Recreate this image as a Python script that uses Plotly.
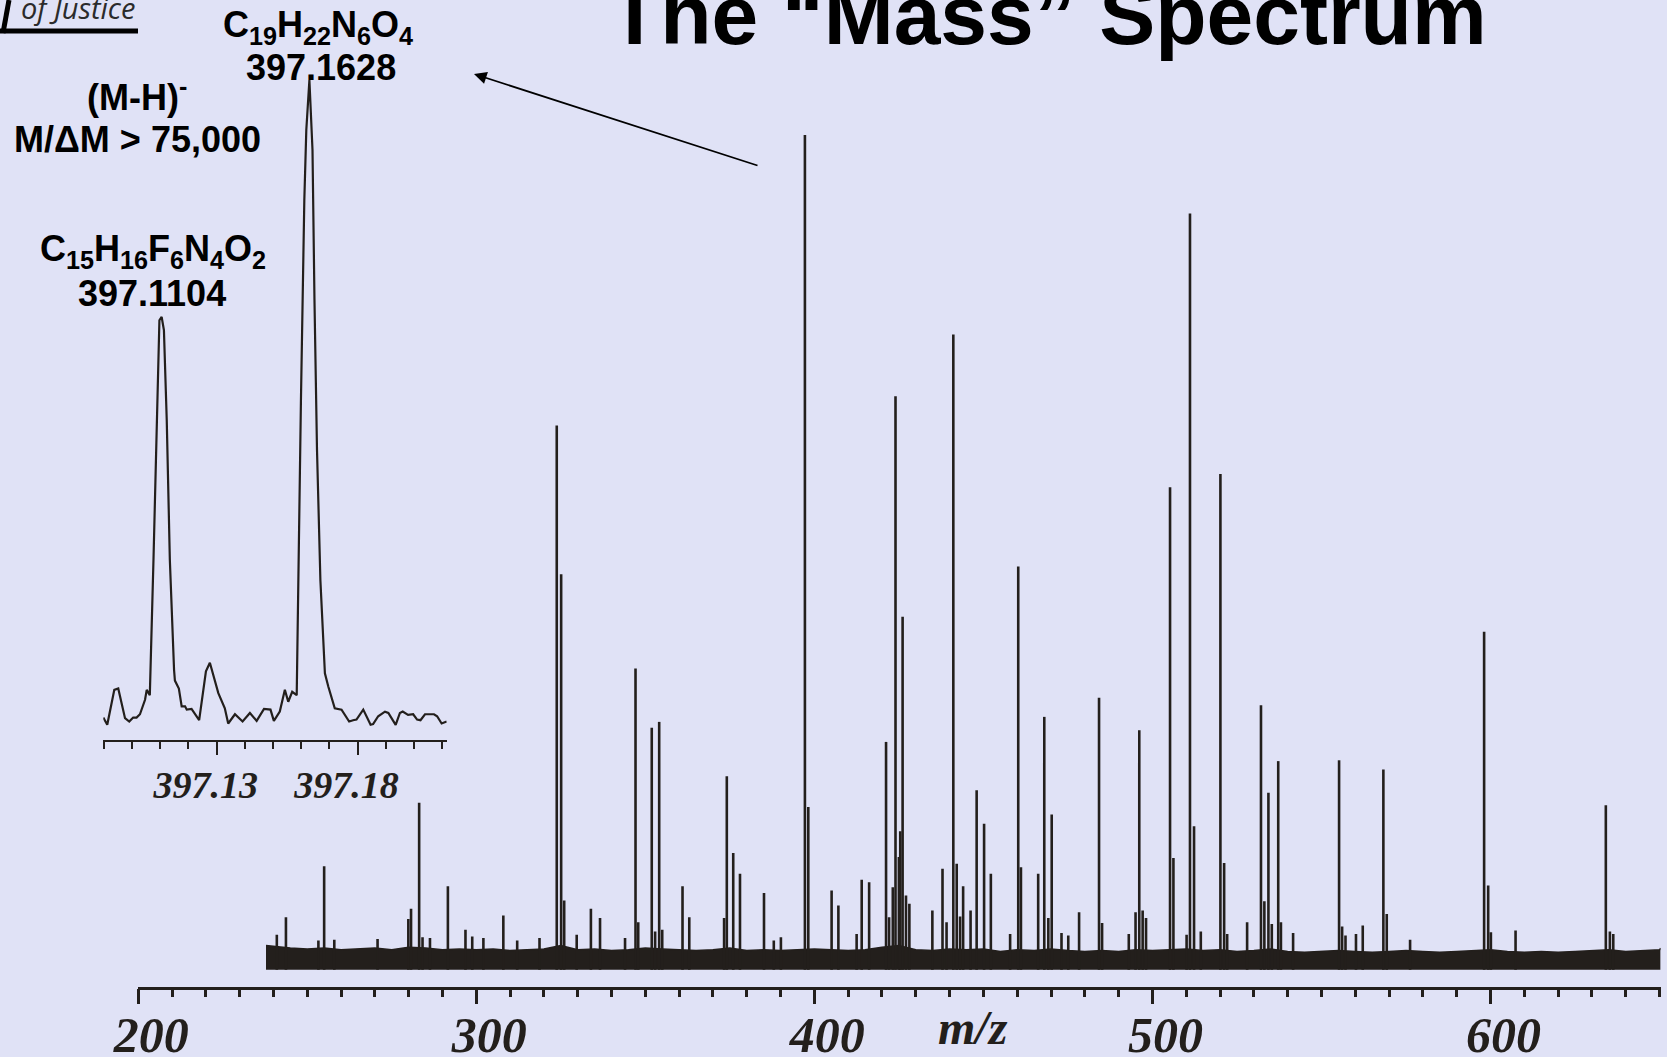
import plotly.graph_objects as go

W, H = 1667, 1057

# ---------------- data ----------------
# main spectrum peaks (m/z, relative intensity)
peak_mz = [241.0, 243.7, 253.3, 255.0, 258.0, 270.8, 279.9, 280.7, 283.1, 284.1, 286.3,
           291.6, 296.8, 298.8, 302.1, 308.0, 312.1, 318.7, 323.8, 325.1, 326.0, 329.7,
           333.9, 336.6, 344.0, 347.1, 347.9, 351.9, 352.9, 354.1, 355.0, 361.0, 363.0,
           373.3, 374.1, 376.0, 378.0, 385.1, 388.0, 390.1, 397.2, 398.2, 405.1, 407.1,
           412.5, 414.0, 416.2, 421.2, 422.1, 423.2, 424.0, 425.0, 425.4, 426.1, 427.1,
           428.1, 434.9, 437.9, 439.1, 441.1, 442.1, 443.1, 444.0, 446.2, 448.0, 450.2,
           452.2, 457.9, 460.3, 461.1, 466.2, 468.0, 469.2, 470.2, 473.1, 475.1, 478.3,
           484.2, 485.1, 493.0, 495.0, 496.1, 497.1, 498.1, 505.2, 506.2, 510.1, 511.1,
           512.3, 514.3, 520.1, 521.2, 522.1, 528.0, 532.1, 533.1, 534.3, 535.3, 537.2,
           538.0, 541.6, 555.2, 556.1, 557.1, 560.2, 562.2, 568.3, 569.3, 576.2, 598.1,
           599.3, 600.1, 607.4, 634.1, 635.3, 636.3]
peak_int = [4.2, 6.3, 3.5, 12.4, 3.6, 3.7, 6.1, 7.3, 20.0, 3.9, 3.8,
            10.0, 4.8, 4.0, 3.8, 6.5, 3.5, 3.8, 65.2, 47.4, 8.3, 4.2,
            7.3, 6.2, 3.8, 36.1, 5.7, 29.0, 4.6, 29.7, 4.8, 10.0, 6.3,
            6.2, 23.2, 14.0, 11.5, 9.2, 3.5, 3.9, 100.0, 19.5, 9.5, 7.7,
            4.3, 10.8, 10.5, 27.3, 6.3, 9.9, 68.7, 13.5, 16.6, 42.3, 8.9,
            7.9, 7.1, 12.1, 5.7, 76.1, 12.7, 6.4, 10.0, 7.1, 21.5, 17.5,
            11.5, 4.3, 48.3, 12.3, 11.5, 30.3, 6.2, 18.6, 4.4, 4.1, 6.9,
            32.6, 5.6, 4.3, 6.9, 28.7, 7.1, 6.2, 57.8, 13.4, 4.2, 90.6,
            17.2, 4.6, 59.4, 12.8, 4.3, 5.7, 31.7, 8.2, 21.2, 5.5, 25.0,
            5.7, 4.4, 25.1, 5.2, 4.1, 4.3, 5.3, 24.0, 6.7, 3.6, 40.5,
            10.1, 4.5, 4.7, 19.7, 4.6, 4.3]

# baseline noise envelope
noise_mz = [237.8, 240, 245, 250, 255, 260, 265, 270, 275, 280, 285, 290, 295, 300, 305,
            310, 315, 320, 325, 330, 335, 340, 345, 350, 355, 360, 365, 370, 375, 380,
            385, 390, 395, 400, 405, 410, 415, 420, 425, 430, 435, 440, 445, 450, 455,
            460, 465, 470, 475, 480, 485, 490, 495, 500, 505, 510, 515, 520, 525, 530,
            535, 540, 545, 550, 555, 560, 565, 570, 575, 580, 585, 590, 595, 600, 605,
            610, 615, 620, 625, 630, 635, 640, 645, 650, 650.3]
noise_int = [2.9, 2.8, 2.6, 2.5, 2.6, 2.4, 2.5, 2.6, 2.4, 2.7, 2.6, 2.4, 2.5, 2.4, 2.5,
             2.3, 2.4, 2.5, 2.9, 2.4, 2.5, 2.3, 2.4, 2.6, 2.5, 2.4, 2.3, 2.4, 2.6, 2.3,
             2.4, 2.3, 2.4, 2.5, 2.4, 2.3, 2.4, 2.7, 2.9, 2.4, 2.3, 2.5, 2.4, 2.5, 2.2,
             2.4, 2.3, 2.5, 2.3, 2.2, 2.3, 2.2, 2.4, 2.3, 2.4, 2.5, 2.3, 2.4, 2.2, 2.3,
             2.5, 2.2, 2.1, 2.2, 2.3, 2.2, 2.1, 2.2, 2.3, 2.2, 2.1, 2.2, 2.3, 2.4, 2.2,
             2.1, 2.2, 2.1, 2.2, 2.3, 2.4, 2.2, 2.3, 2.4, 2.6]

main_ticks = [200, 300, 400, 500, 600]
main_ticktext = ["200", "300", "400", "500", "600"]
mid_ticks = [250, 350, 450, 550, 650]

# high-resolution inset (m/z, relative intensity)
inset_mz = [397.0898, 397.0912, 397.0937, 397.0951, 397.0975, 397.0990, 397.1004, 397.1016,
            397.1028, 397.1046, 397.1052, 397.1063, 397.1076, 397.1089, 397.1097, 397.1105,
            397.1113, 397.1123, 397.1134, 397.1149, 397.1152, 397.1166, 397.1176, 397.1188,
            397.1194, 397.1211, 397.1238, 397.1262, 397.1276, 397.1306, 397.1329, 397.1341,
            397.1365, 397.1392, 397.1418, 397.1442, 397.1468, 397.1491, 397.1503, 397.1524,
            397.1542, 397.1554, 397.1568, 397.1584, 397.1590, 397.1599, 397.1611, 397.1618,
            397.1629, 397.1640, 397.1647, 397.1656, 397.1668, 397.1678, 397.1684, 397.1696,
            397.1719, 397.1743, 397.1770, 397.1784, 397.1796, 397.1820, 397.1846, 397.1855,
            397.1873, 397.1897, 397.1909, 397.1935, 397.1950, 397.1960, 397.1979, 397.1997,
            397.2011, 397.2023, 397.2039, 397.2071, 397.2082, 397.2098, 397.2116]
inset_int = [3.4, 2.3, 7.6, 7.8, 3.3, 2.8, 3.4, 3.4,
             3.9, 6.1, 7.6, 6.8, 27.3, 53.0, 63.6, 64.1,
             62.1, 48.5, 27.3, 10.6, 9.0, 7.8, 5.1, 5.1,
             4.6, 4.7, 3.0, 10.4, 11.7, 7.1, 4.8, 2.5,
             3.9, 2.8, 4.1, 2.9, 4.7, 4.6, 2.9, 4.3,
             7.6, 5.8, 7.3, 6.8, 27.3, 51.5, 81.8, 92.4,
             100.0, 89.4, 66.7, 43.9, 24.2, 14.4, 10.1, 8.1,
             4.8, 4.6, 2.8, 3.0, 3.1, 4.6, 2.3, 2.4,
             3.6, 4.3, 4.1, 2.3, 4.1, 4.3, 3.8, 3.9,
             3.1, 3.0, 3.9, 3.9, 3.6, 2.5, 2.8]
inset_ticks = [397.13, 397.18]
inset_ticktext = ["397.13", "397.18"]

# ---------------- styling ----------------
BG = "#E0E2F6"
INK = "#231F1C"

def px(x):
    return x / W

def py(y):
    return 1 - y / H

# stick spectrum built from the peak arrays
stick_x, stick_y = [], []
for m, v in zip(peak_mz, peak_int):
    stick_x += [m, m, None]
    stick_y += [0, v, None]

fig = go.Figure()
fig.add_trace(go.Scatter(x=noise_mz, y=noise_int, mode="lines", fill="tozeroy",
                         fillcolor=INK, line=dict(color=INK, width=1.5),
                         hoverinfo="skip", showlegend=False, xaxis="x", yaxis="y"))
fig.add_trace(go.Scatter(x=stick_x, y=stick_y, mode="lines",
                         line=dict(color=INK, width=2.6),
                         showlegend=False, xaxis="x", yaxis="y"))
fig.add_trace(go.Scatter(x=inset_mz, y=inset_int, mode="lines",
                         line=dict(color=INK, width=2.2),
                         showlegend=False, xaxis="x2", yaxis="y2"))

serif_bi = dict(family="Liberation Serif", color=INK, weight="bold", style="italic")

main_dom_x = [px(138.2), px(1660.6)]
fig.update_layout(
    width=W, height=H, autosize=False,
    margin=dict(l=0, r=0, t=0, b=0, pad=0, autoexpand=False),
    paper_bgcolor=BG, plot_bgcolor="rgba(0,0,0,0)",
    showlegend=False,
    xaxis=dict(domain=main_dom_x, range=[200, 650.3], anchor="y", automargin=False,
               showline=True, linecolor=INK, linewidth=2.5,
               showgrid=False, zeroline=False,
               tickmode="array", tickvals=main_ticks, ticktext=main_ticktext,
               ticks="outside", ticklen=15, tickwidth=2.6, tickcolor=INK,
               tickfont=dict(size=50, **serif_bi), ticklabelshift=13,
               ticklabelstandoff=-12,
               minor=dict(tickmode="linear", tick0=200, dtick=10, ticks="outside",
                          ticklen=8, tickwidth=2.6, tickcolor=INK, showgrid=False)),
    xaxis3=dict(domain=main_dom_x, range=[200, 650.3], anchor="y", overlaying="x",
                automargin=False, showline=False, showgrid=False, zeroline=False,
                tickmode="array", tickvals=mid_ticks, ticktext=["" for _ in mid_ticks],
                ticks="outside", ticklen=12, tickwidth=2.6, tickcolor=INK),
    yaxis=dict(domain=[py(986.5), py(126.7)], range=[-2.0, 101], visible=False,
               automargin=False, fixedrange=True),
    xaxis2=dict(domain=[px(103.3), px(446.7)], range=[397.0898, 397.2116], anchor="y2",
                automargin=False,
                showline=True, linecolor=INK, linewidth=2.4,
                showgrid=False, zeroline=False,
                tickmode="array", tickvals=inset_ticks, ticktext=inset_ticktext,
                ticks="outside", ticklen=13, tickwidth=2.4, tickcolor=INK,
                tickfont=dict(size=38, **serif_bi), ticklabelshift=-11,
                ticklabelstandoff=-3,
                minor=dict(tickmode="linear", tick0=397.09, dtick=0.01, ticks="outside",
                           ticklen=7, tickwidth=2.4, tickcolor=INK, showgrid=False)),
    yaxis2=dict(domain=[py(740), py(73.4)], range=[0, 101], visible=False,
                automargin=False, fixedrange=True),
)

sans_b = dict(family="Liberation Sans", color="#000000", weight="bold")
ann = []
ann.append(dict(text="The \u201cMass\u201d Spectrum", x=px(1048), y=py(15),
                xanchor="center", yanchor="middle",
                font=dict(size=84, **sans_b)))
ann.append(dict(text="C<sub>19</sub>H<sub>22</sub>N<sub>6</sub>O<sub>4</sub>",
                x=px(318), y=py(27), xanchor="center", yanchor="middle",
                font=dict(size=36, **sans_b)))
ann.append(dict(text="397.1628", x=px(321), y=py(68), xanchor="center", yanchor="middle",
                font=dict(size=36, **sans_b)))
ann.append(dict(text="(M-H)<sup>-</sup>", x=px(137), y=py(95), xanchor="center",
                yanchor="middle", font=dict(size=36, **sans_b)))
ann.append(dict(text="M/\u0394M > 75,000", x=px(137), y=py(139), xanchor="center",
                yanchor="middle", font=dict(size=36, **sans_b)))
ann.append(dict(text="C<sub>15</sub>H<sub>16</sub>F<sub>6</sub>N<sub>4</sub>O<sub>2</sub>",
                x=px(153), y=py(251), xanchor="center", yanchor="middle",
                font=dict(size=36, **sans_b)))
ann.append(dict(text="397.1104", x=px(152), y=py(293), xanchor="center", yanchor="middle",
                font=dict(size=36, **sans_b)))
ann.append(dict(text="m/z", x=px(973), y=py(1027), xanchor="center", yanchor="middle",
                font=dict(size=48, **serif_bi)))
ann.append(dict(text="of Justice", x=px(19), y=py(7), xanchor="left", yanchor="middle",
                font=dict(family="Open Sans", size=29, color="#2b2b2b", style="italic")))
# arrow pointing from the main peak to the inset
ann.append(dict(text="", x=px(474), y=py(74), showarrow=True, arrowhead=2,
                arrowsize=1.4, arrowwidth=1.8, arrowcolor="#000000",
                ax=285, ay=92, standoff=0))
for a in ann:
    a.setdefault("xref", "paper")
    a.setdefault("yref", "paper")
    a.setdefault("showarrow", False)
fig.update_layout(annotations=ann)

# logo strokes
fig.update_layout(shapes=[
    dict(type="line", xref="paper", yref="paper", x0=px(0), y0=py(31), x1=px(138),
         y1=py(31), line=dict(color="#000000", width=5)),
    dict(type="line", xref="paper", yref="paper", x0=px(9), y0=py(0), x1=px(3),
         y1=py(33), line=dict(color="#000000", width=5)),
])

fig.write_html("out.html")
